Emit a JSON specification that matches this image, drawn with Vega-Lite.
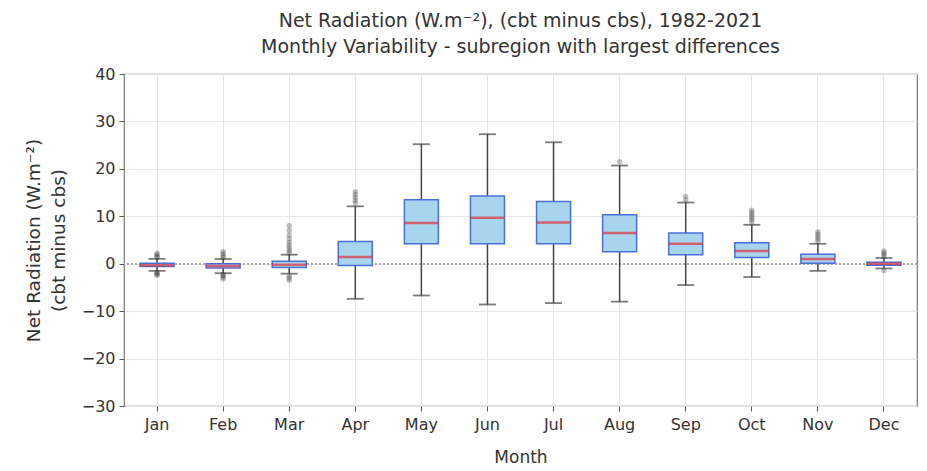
{
  "$schema": "https://vega.github.io/schema/vega-lite/v6.json",
  "width": 793,
  "height": 332,
  "autosize": {"type": "none"},
  "padding": {"left": 124, "top": 74, "right": 10, "bottom": 65},
  "background": "white",
  "config": {
    "font": "DejaVu Sans",
    "view": {"stroke": "#777", "strokeWidth": 1.2},
    "axis": {"labelFont": "DejaVu Sans", "titleFont": "DejaVu Sans", "labelColor": "#333", "titleColor": "#333", "titleFontWeight": "normal", "labelFontSize": 16, "titleFontSize": 17, "gridColor": "#e6e6e6", "gridWidth": 1, "tickColor": "#555", "domain": false}
  },
  "title": {
    "text": ["Net Radiation (W.m⁻²), (cbt minus cbs), 1982-2021", "Monthly Variability - subregion with largest differences"],
    "fontSize": 19,
    "fontWeight": "normal",
    "color": "#333",
    "font": "DejaVu Sans",
    "anchor": "middle",
    "offset": 9,
    "lineHeight": 26
  },
  "datasets": {
    "boxes": [
      {"month": "Jan", "lower": -1.5, "q1": -0.6, "median": -0.3, "q3": 0.1, "upper": 1.0},
      {"month": "Feb", "lower": -2.0, "q1": -0.9, "median": -0.5, "q3": 0.0, "upper": 1.0},
      {"month": "Mar", "lower": -2.1, "q1": -0.8, "median": -0.2, "q3": 0.5, "upper": 1.9},
      {"month": "Apr", "lower": -7.4, "q1": -0.4, "median": 1.4, "q3": 4.7, "upper": 12.1},
      {"month": "May", "lower": -6.7, "q1": 4.2, "median": 8.6, "q3": 13.5, "upper": 25.2},
      {"month": "Jun", "lower": -8.6, "q1": 4.2, "median": 9.7, "q3": 14.3, "upper": 27.3},
      {"month": "Jul", "lower": -8.3, "q1": 4.2, "median": 8.7, "q3": 13.1, "upper": 25.6},
      {"month": "Aug", "lower": -8.0, "q1": 2.5, "median": 6.5, "q3": 10.3, "upper": 20.7},
      {"month": "Sep", "lower": -4.5, "q1": 1.9, "median": 4.2, "q3": 6.5, "upper": 12.9},
      {"month": "Oct", "lower": -2.8, "q1": 1.3, "median": 2.7, "q3": 4.4, "upper": 8.2},
      {"month": "Nov", "lower": -1.5, "q1": 0.1, "median": 1.0, "q3": 2.0, "upper": 4.2},
      {"month": "Dec", "lower": -1.0, "q1": -0.3, "median": 0.0, "q3": 0.3, "upper": 1.2}
    ],
    "outliers": [
      {"month": "Jan", "value": -2.5}, {"month": "Jan", "value": -2.2}, {"month": "Jan", "value": -2.0}, {"month": "Jan", "value": -1.8},
      {"month": "Jan", "value": 1.3}, {"month": "Jan", "value": 1.6}, {"month": "Jan", "value": 1.9}, {"month": "Jan", "value": 2.2},
      {"month": "Feb", "value": -3.2}, {"month": "Feb", "value": -2.8}, {"month": "Feb", "value": -2.5}, {"month": "Feb", "value": -2.2},
      {"month": "Feb", "value": 1.3}, {"month": "Feb", "value": 1.7}, {"month": "Feb", "value": 2.1}, {"month": "Feb", "value": 2.6},
      {"month": "Mar", "value": -3.5}, {"month": "Mar", "value": -3.0}, {"month": "Mar", "value": -2.6},
      {"month": "Mar", "value": 2.3}, {"month": "Mar", "value": 2.8}, {"month": "Mar", "value": 3.3}, {"month": "Mar", "value": 3.9},
      {"month": "Mar", "value": 4.5}, {"month": "Mar", "value": 5.2}, {"month": "Mar", "value": 6.0}, {"month": "Mar", "value": 7.0}, {"month": "Mar", "value": 8.0},
      {"month": "Apr", "value": 12.8}, {"month": "Apr", "value": 13.4}, {"month": "Apr", "value": 14.0}, {"month": "Apr", "value": 14.6}, {"month": "Apr", "value": 15.2},
      {"month": "Aug", "value": 21.5},
      {"month": "Sep", "value": 13.5}, {"month": "Sep", "value": 14.2},
      {"month": "Oct", "value": 8.8}, {"month": "Oct", "value": 9.3}, {"month": "Oct", "value": 9.8}, {"month": "Oct", "value": 10.3}, {"month": "Oct", "value": 10.8}, {"month": "Oct", "value": 11.3},
      {"month": "Nov", "value": 4.7}, {"month": "Nov", "value": 5.2}, {"month": "Nov", "value": 5.7}, {"month": "Nov", "value": 6.2}, {"month": "Nov", "value": 6.7},
      {"month": "Dec", "value": -1.5}, {"month": "Dec", "value": 1.5}, {"month": "Dec", "value": 1.9}, {"month": "Dec", "value": 2.3}, {"month": "Dec", "value": 2.7}
    ]
  },
  "data": {"name": "boxes"},
  "encoding": {
    "x": {
      "field": "month", "type": "nominal", "sort": ["Jan","Feb","Mar","Apr","May","Jun","Jul","Aug","Sep","Oct","Nov","Dec"],
      "scale": {"paddingInner": 0, "paddingOuter": 0},
      "axis": {"title": "Month", "labelAngle": 0, "bandPosition": 0.5, "grid": true, "tickSize": 5, "labelPadding": 5, "titlePadding": 17}
    }
  },
  "layer": [
    {
      "mark": {"type": "rule", "color": "#aaa", "strokeDash": [2, 2], "strokeWidth": 1.2},
      "encoding": {"x": null, "y": {"datum": 0, "type": "quantitative", "scale": {"domain": [-30, 40], "nice": false},
        "axis": {"title": ["Net Radiation (W.m⁻²)", "(cbt minus cbs)"], "titleFontSize": 18.5, "titleLineHeight": 25, "values": [-30,-20,-10,0,10,20,30,40], "grid": true, "tickSize": 5, "labelPadding": 4, "titlePadding": 13}}}
    },
    {
      "mark": {"type": "rule", "color": "#444", "strokeWidth": 1.5},
      "encoding": {"y": {"field": "lower", "type": "quantitative"}, "y2": {"field": "upper"}}
    },
    {
      "mark": {"type": "tick", "color": "#444", "size": 17, "thickness": 1.8, "orient": "horizontal"},
      "encoding": {"y": {"field": "lower", "type": "quantitative"}}
    },
    {
      "mark": {"type": "tick", "color": "#444", "size": 17, "thickness": 1.8, "orient": "horizontal"},
      "encoding": {"y": {"field": "upper", "type": "quantitative"}}
    },
    {
      "mark": {"type": "bar", "size": 34, "fill": "#a8d5ee", "stroke": "#4a6fd6", "strokeWidth": 1.5},
      "encoding": {"y": {"field": "q1", "type": "quantitative"}, "y2": {"field": "q3"}}
    },
    {
      "mark": {"type": "tick", "color": "#e0303c", "size": 34, "thickness": 2.5, "orient": "horizontal"},
      "encoding": {"y": {"field": "median", "type": "quantitative"}}
    },
    {
      "data": {"name": "outliers"},
      "mark": {"type": "circle", "color": "#333", "opacity": 0.3, "size": 30},
      "encoding": {"y": {"field": "value", "type": "quantitative"}}
    }
  ]
}
